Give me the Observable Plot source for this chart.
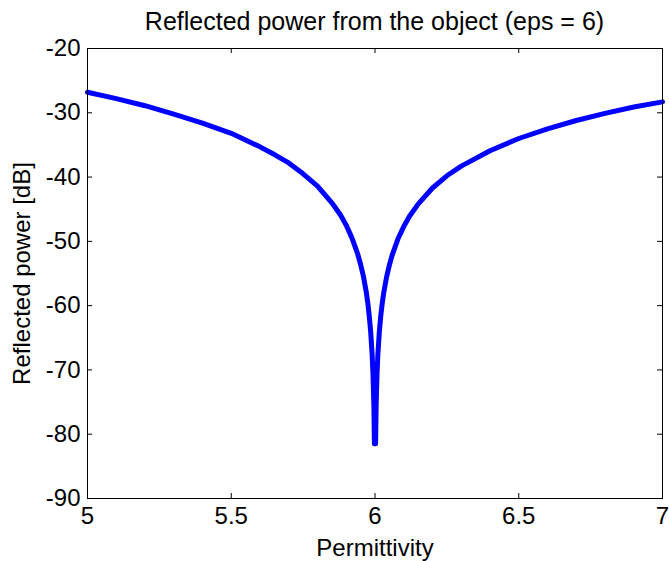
<!DOCTYPE html>
<html>
<head>
<meta charset="utf-8">
<script src="https://cdn.jsdelivr.net/npm/d3@7"></script>
<script src="https://cdn.jsdelivr.net/npm/@observablehq/plot@0.6"></script>
<style>
  body { margin: 0; background: #fff; }
  #wrap { width: 669px; height: 561px; background: #fff; }
  #title {
    height: 36px; box-sizing: border-box; padding: 9px 7px 0 87px;
    line-height: 24px; text-align: center; white-space: nowrap;
    font-family: "Liberation Sans", Arial, sans-serif; font-size: 25px; color: #000;
  }
</style>
</head>
<body>
<div id="wrap">
  <div id="title">Reflected power from the object (eps = 6)</div>
  <div id="chart"></div>
</div>
<script>
// Permittivity (x) and reflected power in dB (y)
const permittivity = [
  5.0, 5.1, 5.2, 5.3, 5.4, 5.5, 5.6, 5.65, 5.7, 5.75, 5.8, 5.85, 5.88, 5.9, 5.92, 5.94, 5.95, 5.96,
  5.97, 5.975, 5.98, 5.985, 5.99, 5.993, 5.996, 5.998, 6.002, 6.004, 6.007, 6.01, 6.015, 6.02,
  6.025, 6.03, 6.04, 6.05, 6.06, 6.08, 6.1, 6.12, 6.15, 6.2, 6.25, 6.3, 6.4, 6.5, 6.6, 6.7, 6.8, 6.9, 7.0
];
const powerDb = [
  -26.8, -27.8, -28.9, -30.2, -31.6, -33.2, -35.3, -36.5, -37.8, -39.5, -41.4, -44.0, -45.9, -47.5, -49.5, -52.0, -53.6, -55.5,
  -58.0, -59.6, -61.6, -64.1, -67.6, -70.7, -75.5, -81.5, -81.5, -75.5, -70.7, -67.6, -64.1, -61.6,
  -59.7, -58.1, -55.6, -53.7, -52.1, -49.6, -47.7, -46.1, -44.2, -41.7, -39.8, -38.3, -35.9, -34.0, -32.5, -31.2, -30.1, -29.1, -28.3
];
const xTicks = [5, 5.5, 6, 6.5, 7];
const yTicks = [-90, -80, -70, -60, -50, -40, -30, -20];

const data = permittivity.map((x, i) => ({x, y: powerDb[i]}));

const W = 669, H = 525;
const mL = 87, mR = 7, mT = 12, mB = 63;
const innerW = W - mL - mR, innerH = H - mT - mB;
const tick = 5;

const chart = Plot.plot({
  width: W,
  height: H,
  marginLeft: mL,
  marginRight: mR,
  marginTop: mT,
  marginBottom: mB,
  style: {fontFamily: "'Liberation Sans', Arial, sans-serif", fontSize: "24px", color: "#000", background: "#fff", overflow: "visible"},
  x: {domain: [5, 7]},
  y: {domain: [-90, -20]},
  marks: [
    Plot.line(data, {x: "x", y: "y", stroke: "#0000ff", strokeWidth: 5}),
    Plot.frame({stroke: "#000", strokeWidth: 1}),
    Plot.tickX(xTicks, {x: d => d, insetTop: innerH - tick, stroke: "#000"}),
    Plot.tickX(xTicks, {x: d => d, insetBottom: innerH - tick, stroke: "#000"}),
    Plot.tickY(yTicks, {y: d => d, insetRight: innerW - tick, stroke: "#000"}),
    Plot.tickY(yTicks, {y: d => d, insetLeft: innerW - tick, stroke: "#000"}),
    Plot.axisX(xTicks, {anchor: "bottom", tickSize: 0, tickPadding: 8, tickFormat: d => String(d),
      label: "Permittivity", labelAnchor: "center", labelArrow: "none", labelOffset: 57}),
    Plot.axisY(yTicks, {anchor: "left", tickSize: 0, tickPadding: 7, tickFormat: d => String(d),
      label: "Reflected power [dB]", labelAnchor: "center", labelArrow: "none", labelOffset: 75})
  ]
});
document.getElementById("chart").appendChild(chart);
</script>
</body>
</html>
